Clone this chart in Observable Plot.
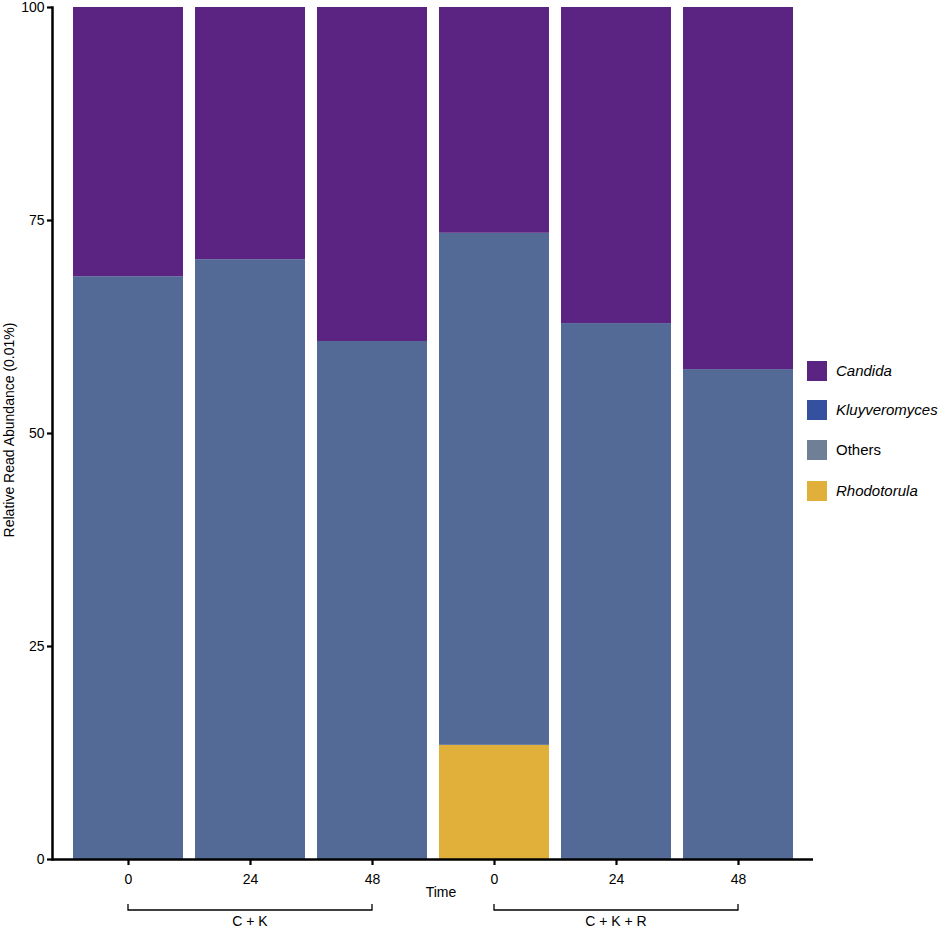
<!DOCTYPE html>
<html><head><meta charset="utf-8">
<script src="https://cdn.jsdelivr.net/npm/d3@7"></script>
<script src="https://cdn.jsdelivr.net/npm/@observablehq/plot@0.6"></script>
<style>body{margin:0;background:#fff;font-family:"Liberation Sans",Arial,sans-serif}</style>
</head><body><div id="chart"></div>
<script>
const groups = ["C + K","C + K","C + K","C + K + R","C + K + R","C + K + R"];
const times = ["0","24","48","0","24","48"];
const rhodotorula = [0,0,0,13.4,0,0];
const kluyOthers = [68.4,70.4,60.8,60.1,62.9,57.5];
const candida = [31.6,29.6,39.2,26.5,37.1,42.5];
const legendNames = ["Candida","Kluyveromyces","Others","Rhodotorula"];
const legendColors = ["#5c2482","#3451a0","#6e7f96","#e0b03a"];
const legendItalic = [true,true,false,true];
const segNames = ["Rhodotorula","Kluyveromyces + Others","Candida"];
const segColors = ["#e0b03a","#536a97","#5c2482"];
const yTicks = [0,25,50,75,100];

const keys = groups.map((g,i)=>g+"|"+i);
const rows = [];
keys.forEach((k,i)=>{
  rows.push({key:k, taxon:segNames[0], value:rhodotorula[i]});
  rows.push({key:k, taxon:segNames[1], value:kluyOthers[i]});
  rows.push({key:k, taxon:segNames[2], value:candida[i]});
});

const chart = Plot.plot({
  width:941, height:929,
  marginLeft:52, marginRight:128, marginTop:7, marginBottom:70,
  style:{fontFamily:'"Liberation Sans",Arial,sans-serif', fontSize:"14px", color:"#000", background:"#fff"},
  x:{domain:keys, paddingInner:0.1, paddingOuter:0.15, label:null},
  y:{domain:[0,100], label:null},
  color:{domain:segNames, range:segColors},
  marks:[
    Plot.barY(rows,{x:"key", y:"value", fill:"taxon", inset:0}),
    Plot.axisX({tickSize:6, tickPadding:9, strokeWidth:2.2, fontSize:14, tickFormat:k=>times[keys.indexOf(k)], label:null}),
    Plot.axisY({ticks:yTicks, tickSize:5, tickPadding:3, strokeWidth:2.2, fontSize:14, label:null}),
    Plot.ruleY([0],{strokeWidth:2.5, stroke:"#000"}),
    Plot.frame({anchor:"left", strokeWidth:2.5, stroke:"#000"})
  ]
});
document.getElementById("chart").appendChild(chart);

const svg = d3.select(chart);
const x = chart.scale("x");
const bw = x.bandwidth;
const f = '"Liberation Sans",Arial,sans-serif';

// y axis title
svg.append("text").attr("transform","translate(14,430) rotate(-90)")
  .attr("text-anchor","middle").attr("font-size",14).attr("font-family",f).attr("fill","#000")
  .text("Relative Read Abundance (0.01%)");
// x axis title
svg.append("text").attr("x",441).attr("y",897).attr("text-anchor","middle")
  .attr("font-size",14).attr("font-family",f).attr("fill","#000").text("Time");

// group brackets
const uniqueGroups = [...new Set(groups)];
uniqueGroups.forEach(g=>{
  const ks = keys.filter(k=>k.startsWith(g+"|"));
  const x0 = x.apply(ks[0]) + bw/2, x1 = x.apply(ks[ks.length-1]) + bw/2;
  svg.append("path").attr("d",`M${x0},904V910H${x1}V904`).attr("fill","none").attr("stroke","#000").attr("stroke-width",1.3);
  svg.append("text").attr("x",(x0+x1)/2).attr("y",926).attr("text-anchor","middle")
    .attr("font-size",14).attr("font-family",f).attr("fill","#000").text(g);
});

// legend
const lg = svg.append("g");
const lgY = [371,410,450,491];
legendNames.forEach((n,i)=>{
  lg.append("rect").attr("x",807).attr("y",lgY[i]-10).attr("width",20).attr("height",20).attr("fill",legendColors[i]);
  lg.append("text").attr("x",836).attr("y",lgY[i]+5).attr("text-anchor","start").attr("font-size",15).attr("font-family",f)
    .attr("font-style",legendItalic[i]?"italic":"normal").attr("fill","#000").text(n);
});
</script>
</body></html>
